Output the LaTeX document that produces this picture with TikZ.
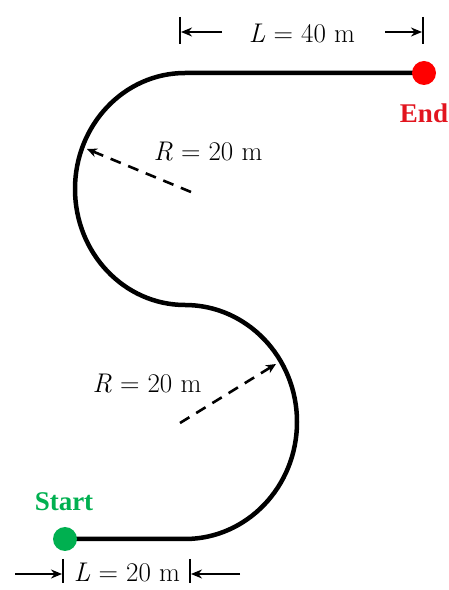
\documentclass[tikz,border=0pt]{standalone}
\usepackage{fontspec}
\setmainfont{Liberation Serif}
\newfontfamily\lmfont{Latin Modern Roman}
\usetikzlibrary{arrows.meta}
\definecolor{startgreen}{RGB}{0,176,80}
\definecolor{endred}{RGB}{226,20,30}
\newcommand{\qty}[2]{{\itshape #1} = #2 m}
\begin{document}
\begin{tikzpicture}[x=1pt,y=1pt,
  track/.style={line width=4.5pt},
  radiusline/.style={line width=2.6pt, dash pattern=on 11pt off 8pt, -{Stealth[length=10pt,width=9pt]}},
  dimarrow/.style={line width=2.4pt, -{Stealth[length=11pt,width=9pt]}},
  dimbar/.style={line width=2.8pt},
  lbl/.style={font=\lmfont\fontsize{27}{32}\selectfont, inner sep=0pt},
  blbl/.style={font=\fontsize{27}{32}\selectfont\bfseries, inner sep=0pt},
  dot/.style={circle, minimum size=24pt, inner sep=0pt}]
\useasboundingbox (0,0) rectangle (449,590);
% track
\coordinate (s) at (65,51);
\coordinate (a) at (185,51);
\coordinate (e) at (424,517);
\draw[track] (s) -- (a)
  arc[start angle=-90,end angle=90,x radius=112,y radius=117]
  arc[start angle=270,end angle=90,x radius=110,y radius=116] -- (e);
\node[dot, fill=startgreen] (startdot) at (s) {};
\node[dot, fill=red] (enddot) at (e) {};
\node[blbl, text=startgreen] (startlbl) at (64,88) {Start};
\node[blbl, text=endred] (endlbl) at (424,477) {End};
% radii
\coordinate (c1) at (191,398);
\coordinate (p1) at (87,441);
\coordinate (c2) at (180,167);
\coordinate (p2) at (276,226);
\draw[radiusline] (c1) -- (p1);
\draw[radiusline] (c2) -- (p2);
\node[lbl] (r1) at (208,438) {\qty{R}{20}};
\node[lbl] (r2) at (147,206) {\qty{R}{20}};
% top dimension
\coordinate (tb1a) at (180,573); \coordinate (tb1b) at (180,546);
\coordinate (tb2a) at (423,573); \coordinate (tb2b) at (423,546);
\draw[dimbar] (tb1a) -- (tb1b);
\draw[dimbar] (tb2a) -- (tb2b);
\coordinate (ta1) at (222,558); \coordinate (tt1) at (181,558);
\coordinate (ta2) at (385,558); \coordinate (tt2) at (422,558);
\draw[dimarrow] (ta1) -- (tt1);
\draw[dimarrow] (ta2) -- (tt2);
\node[lbl] (ltop) at (302,557) {\qty{L}{40}};
% bottom dimension
\coordinate (bb1a) at (63,31); \coordinate (bb1b) at (63,7);
\coordinate (bb2a) at (190,31); \coordinate (bb2b) at (190,7);
\draw[dimbar] (bb1a) -- (bb1b);
\draw[dimbar] (bb2a) -- (bb2b);
\coordinate (ba1) at (15,16); \coordinate (bt1) at (62,16);
\coordinate (ba2) at (240,16); \coordinate (bt2) at (191,16);
\draw[dimarrow] (ba1) -- (bt1);
\draw[dimarrow] (ba2) -- (bt2);
\node[lbl] (lbot) at (127,18) {\qty{L}{20}};
\end{tikzpicture}
\end{document}
